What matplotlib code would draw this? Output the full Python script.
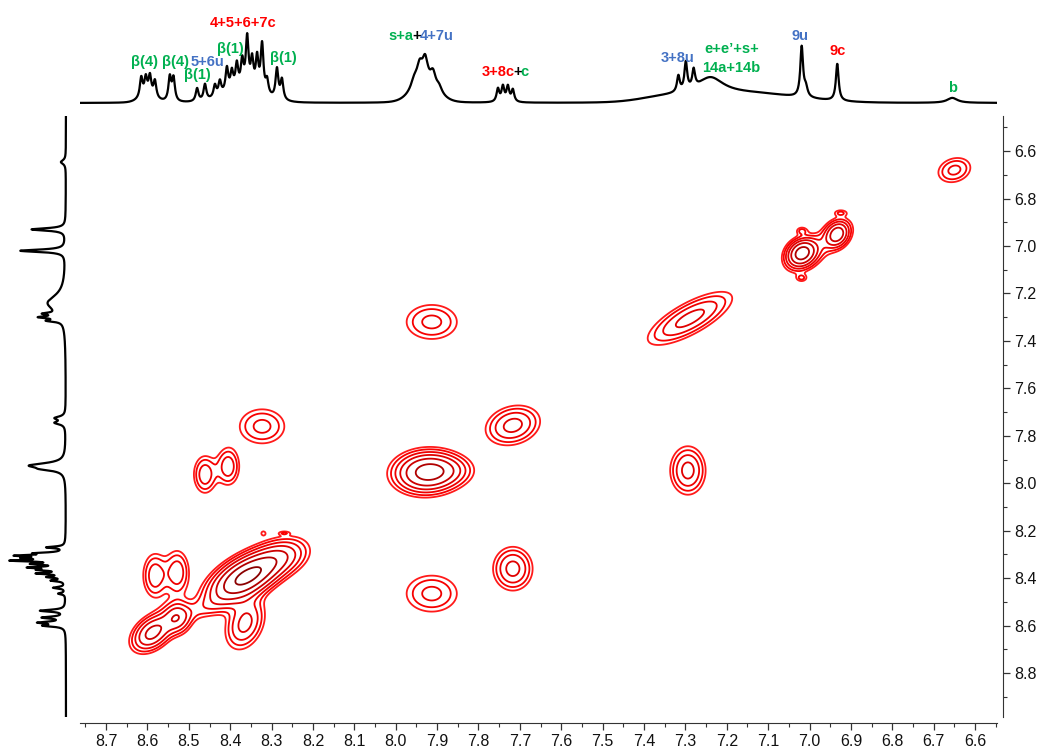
import numpy as np
import matplotlib
matplotlib.use("Agg")
import matplotlib.pyplot as plt
from matplotlib.ticker import MultipleLocator, FormatStrFormatter

plt.rcParams['font.family'] = ['Liberation Sans', 'DejaVu Sans']

# ---- 1D projection (top, F2): peak position (ppm), height, half width
top_pos = [8.615, 8.604, 8.594, 8.582, 8.546, 8.537, 8.480, 8.461,
           8.437, 8.425, 8.408, 8.396, 8.384, 8.371, 8.359, 8.347, 8.335,
           8.323, 8.311, 8.287, 8.275,
           7.955, 7.942, 7.929, 7.910, 7.895,
           7.753, 7.741, 7.729, 7.717,
           7.317, 7.299, 7.280, 7.240,
           7.019, 7.009, 6.933, 6.655]
top_height = [20, 18, 20, 17, 24, 23, 13, 16,
              12, 14, 24, 18, 24, 26, 50, 28, 32,
              48, 14, 30, 20,
              10, 18, 24, 15, 6,
              13, 15, 15, 12,
              16, 28, 18, 18,
              50, 9, 37, 5]
top_width = [0.004, 0.004, 0.004, 0.004, 0.004, 0.004, 0.004, 0.004,
             0.004, 0.004, 0.004, 0.004, 0.004, 0.004, 0.004, 0.004, 0.004,
             0.004, 0.004, 0.004, 0.004,
             0.010, 0.008, 0.008, 0.008, 0.008,
             0.004, 0.004, 0.004, 0.004,
             0.004, 0.004, 0.004, 0.040,
             0.004, 0.005, 0.004, 0.015]
# broad humps under the multiplets
top_hump_pos = [8.600, 8.370, 7.930, 7.150, 7.350]
top_hump_height = [5, 12, 16, 9, 4]
top_hump_sigma = [0.020, 0.045, 0.030, 0.120, 0.060]

# ---- 1D projection (left, F1)
left_pos = [6.646, 6.930, 7.020, 7.240, 7.285, 7.300, 7.315,
            7.725, 7.745, 7.925, 7.940,
            8.270, 8.295, 8.305, 8.315, 8.326, 8.340, 8.355, 8.365, 8.380,
            8.395, 8.410, 8.440, 8.465,
            8.537, 8.566, 8.587, 8.600]
left_height = [5, 34, 45, 18, 14, 20, 14,
               10, 10, 34, 14,
               18, 25, 42, 32, 48, 28, 32, 22, 26,
               16, 13, 12, 7,
               25, 22, 25, 20]
left_width = [0.010, 0.006, 0.006, 0.040, 0.005, 0.005, 0.005,
              0.008, 0.008, 0.012, 0.008,
              0.004, 0.004, 0.004, 0.004, 0.004, 0.004, 0.004, 0.004, 0.004,
              0.004, 0.004, 0.004, 0.004,
              0.005, 0.005, 0.005, 0.005]

# ---- 2D cross peaks: F2 ppm, F1 ppm, amplitude, widths, correlation
cp_x = [6.650, 7.019, 6.933, 6.975, 7.019, 7.019, 6.925,
        7.289, 7.913, 7.925, 7.870, 7.717, 7.717, 7.913, 7.294,
        8.323, 8.461, 8.405, 8.582, 8.528, 8.588, 8.528,
        8.385, 8.335, 8.270, 8.470, 8.364, 8.320, 8.270]
cp_y = [6.680, 7.030, 6.950, 7.000, 6.935, 7.135, 6.860,
        7.305, 7.320, 7.954, 7.945, 7.756, 8.360, 8.465, 7.946,
        7.760, 7.963, 7.929, 8.389, 8.376, 8.630, 8.566,
        8.410, 8.376, 8.310, 8.530, 8.590, 8.210, 8.210]
cp_amp = [0.155, 0.524, 0.349, 0.090, 0.090, 0.090, 0.085,
          0.233, 0.155, 0.524, 0.110, 0.233, 0.233, 0.155, 0.233,
          0.155, 0.180, 0.180, 0.180, 0.180, 0.349, 0.233,
          0.450, 0.450, 0.180, 0.070, 0.233, 0.070, 0.070]
cp_wx = [0.028, 0.022, 0.018, 0.050, 0.010, 0.010, 0.012,
         0.062, 0.044, 0.046, 0.040, 0.040, 0.029, 0.044, 0.026,
         0.039, 0.018, 0.018, 0.019, 0.019, 0.030, 0.021,
         0.045, 0.045, 0.040, 0.050, 0.029, 0.006, 0.010]
cp_wy = [0.037, 0.036, 0.034, 0.070, 0.012, 0.012, 0.010,
         0.068, 0.052, 0.051, 0.040, 0.051, 0.056, 0.055, 0.062,
         0.052, 0.052, 0.052, 0.061, 0.061, 0.048, 0.043,
         0.062, 0.062, 0.050, 0.040, 0.067, 0.010, 0.006]
cp_rho = [0.2, 0.2, 0.2, 0.7, 0.0, 0.0, 0.0,
          0.75, 0.0, 0.05, 0.0, 0.2, 0.0, 0.0, 0.0,
          0.0, 0.0, 0.0, 0.0, 0.0, 0.4, 0.0,
          0.55, 0.55, 0.3, 0.6, 0.3, 0.0, 0.0]
levels = [0.06, 0.09, 0.135, 0.2, 0.3, 0.456, 0.68]
level_colors = ['#ff1a1a', '#f70000', '#ee0000', '#e00000', '#cc0000', '#b00000', '#8a0000']

# ---- peak labels on the top trace: (parts, ppm, height)
GREEN, BLUE, RED, BLACK = '#00b050', '#4472c4', '#ff0000', '#000000'
labels = [
    ([('β(4)', GREEN)], 8.606, 41),
    ([('β(4)', GREEN)], 8.533, 41),
    ([('5+6u', BLUE)], 8.456, 41),
    ([('β(1)', GREEN)], 8.480, 28),
    ([('β(1)', GREEN)], 8.400, 54),
    ([('4+5+6+7c', RED)], 8.369, 80),
    ([('β(1)', GREEN)], 8.272, 45),
    ([('s+a', GREEN), ('+', BLACK), ('4+7u', BLUE)], 7.939, 67),
    ([('3+8c', RED), ('+', BLACK), ('c', GREEN)], 7.736, 31),
    ([('3+8u', BLUE)], 7.318, 45),
    ([('e+e’+s+', GREEN)], 7.188, 54),
    ([('14a+14b', GREEN)], 7.188, 35),
    ([('9u', BLUE)], 7.024, 67),
    ([('9c', RED)], 6.932, 52),
    ([('b', GREEN)], 6.654, 15),
]

XL = (8.763, 6.547)
YL = (8.985, 6.452)
W, H = 1040, 756


def spectrum(axis, pos, height, width):
    s = np.zeros_like(axis)
    for p, h, w in zip(pos, height, width):
        s += h / (1 + ((axis - p) / w) ** 2)
    return s


fig = plt.figure(figsize=(W / 100, H / 100), dpi=100)
ax = fig.add_axes([80 / W, 1 - 717 / H, 917 / W, 601 / H])
ax_top = fig.add_axes([80 / W, 1 - 110 / H, 917 / W, 92 / H])
ax_left = fig.add_axes([5 / W, 1 - 717 / H, 67 / W, 601 / H])

# 2D contour map
gx = np.linspace(XL[1], XL[0], 700)
gy = np.linspace(YL[1], YL[0], 600)
X, Y = np.meshgrid(gx, gy)
Z = np.zeros_like(X)
for x0, y0, a, sx, sy, r in zip(cp_x, cp_y, cp_amp, cp_wx, cp_wy, cp_rho):
    dx = (X - x0) / sx
    dy = (Y - y0) / sy
    Z += a * np.exp(-(dx ** 2 - 2 * r * dx * dy + dy ** 2) / (2 * (1 - r ** 2)))
ax.contour(X, Y, Z, levels=levels, colors=level_colors, linewidths=1.3)

ax.set_xlim(*XL)
ax.set_ylim(*YL)
for s in ['top', 'left']:
    ax.spines[s].set_visible(False)
ax.spines['bottom'].set_position(('outward', 4.3))
ax.spines['right'].set_position(('outward', 4.3))
ax.spines['bottom'].set_color('#333333')
ax.spines['right'].set_color('#333333')
ax.yaxis.tick_right()
ax.xaxis.set_major_locator(MultipleLocator(0.1))
ax.xaxis.set_minor_locator(MultipleLocator(0.05))
ax.yaxis.set_major_locator(MultipleLocator(0.2))
ax.yaxis.set_minor_locator(MultipleLocator(0.1))
ax.xaxis.set_major_formatter(FormatStrFormatter('%.1f'))
ax.yaxis.set_major_formatter(FormatStrFormatter('%.1f'))
ax.tick_params(which='major', length=5, width=0.9, labelsize=11.5, colors='#333333',
               labelcolor='#111111', direction='out', pad=3)
ax.tick_params(which='minor', length=3, width=0.8, colors='#333333', direction='out')

# top trace
xs = np.linspace(XL[1], XL[0], 4000)
top = spectrum(xs, top_pos, top_height, top_width)
for p, h, sg in zip(top_hump_pos, top_hump_height, top_hump_sigma):
    top += h * np.exp(-0.5 * ((xs - p) / sg) ** 2)
ax_top.plot(xs, top, color='black', lw=1.6)
ax_top.set_xlim(*XL)
ax_top.set_ylim(-7, 85)
ax_top.axis('off')

# labels, multi-coloured ones built from chained pieces then centred
font = dict(fontsize=10.5, fontweight='bold')
groups = []
for parts, px, py in labels:
    first = ax_top.text(px, py, parts[0][0], color=parts[0][1], ha='left',
                        va='center', clip_on=False, **font)
    last = first
    for t, c in parts[1:]:
        last = ax_top.annotate(t, xy=(1, 0), xycoords=last, xytext=(-0.8, 0),
                               textcoords='offset points', va='bottom', ha='left',
                               color=c, annotation_clip=False, **font)
    groups.append((first, last, px, py))

fig.canvas.draw()
renderer = fig.canvas.get_renderer()
for first, last, px, py in groups:
    x0 = first.get_window_extent(renderer).x0
    x1 = last.get_window_extent(renderer).x1
    cx, cy = ax_top.transData.transform((px, py))
    new_x = ax_top.transData.inverted().transform((cx - (x1 - x0) / 2, cy))[0]
    first.set_x(new_x)

# left trace
ys = np.linspace(YL[1], YL[0], 4000)
left = spectrum(ys, left_pos, left_height, left_width)
ax_left.plot(left, ys, color='black', lw=1.6)
ax_left.set_xlim(61, -6)
ax_left.set_ylim(*YL)
ax_left.axis('off')

fig.savefig('out.png', dpi=100)
